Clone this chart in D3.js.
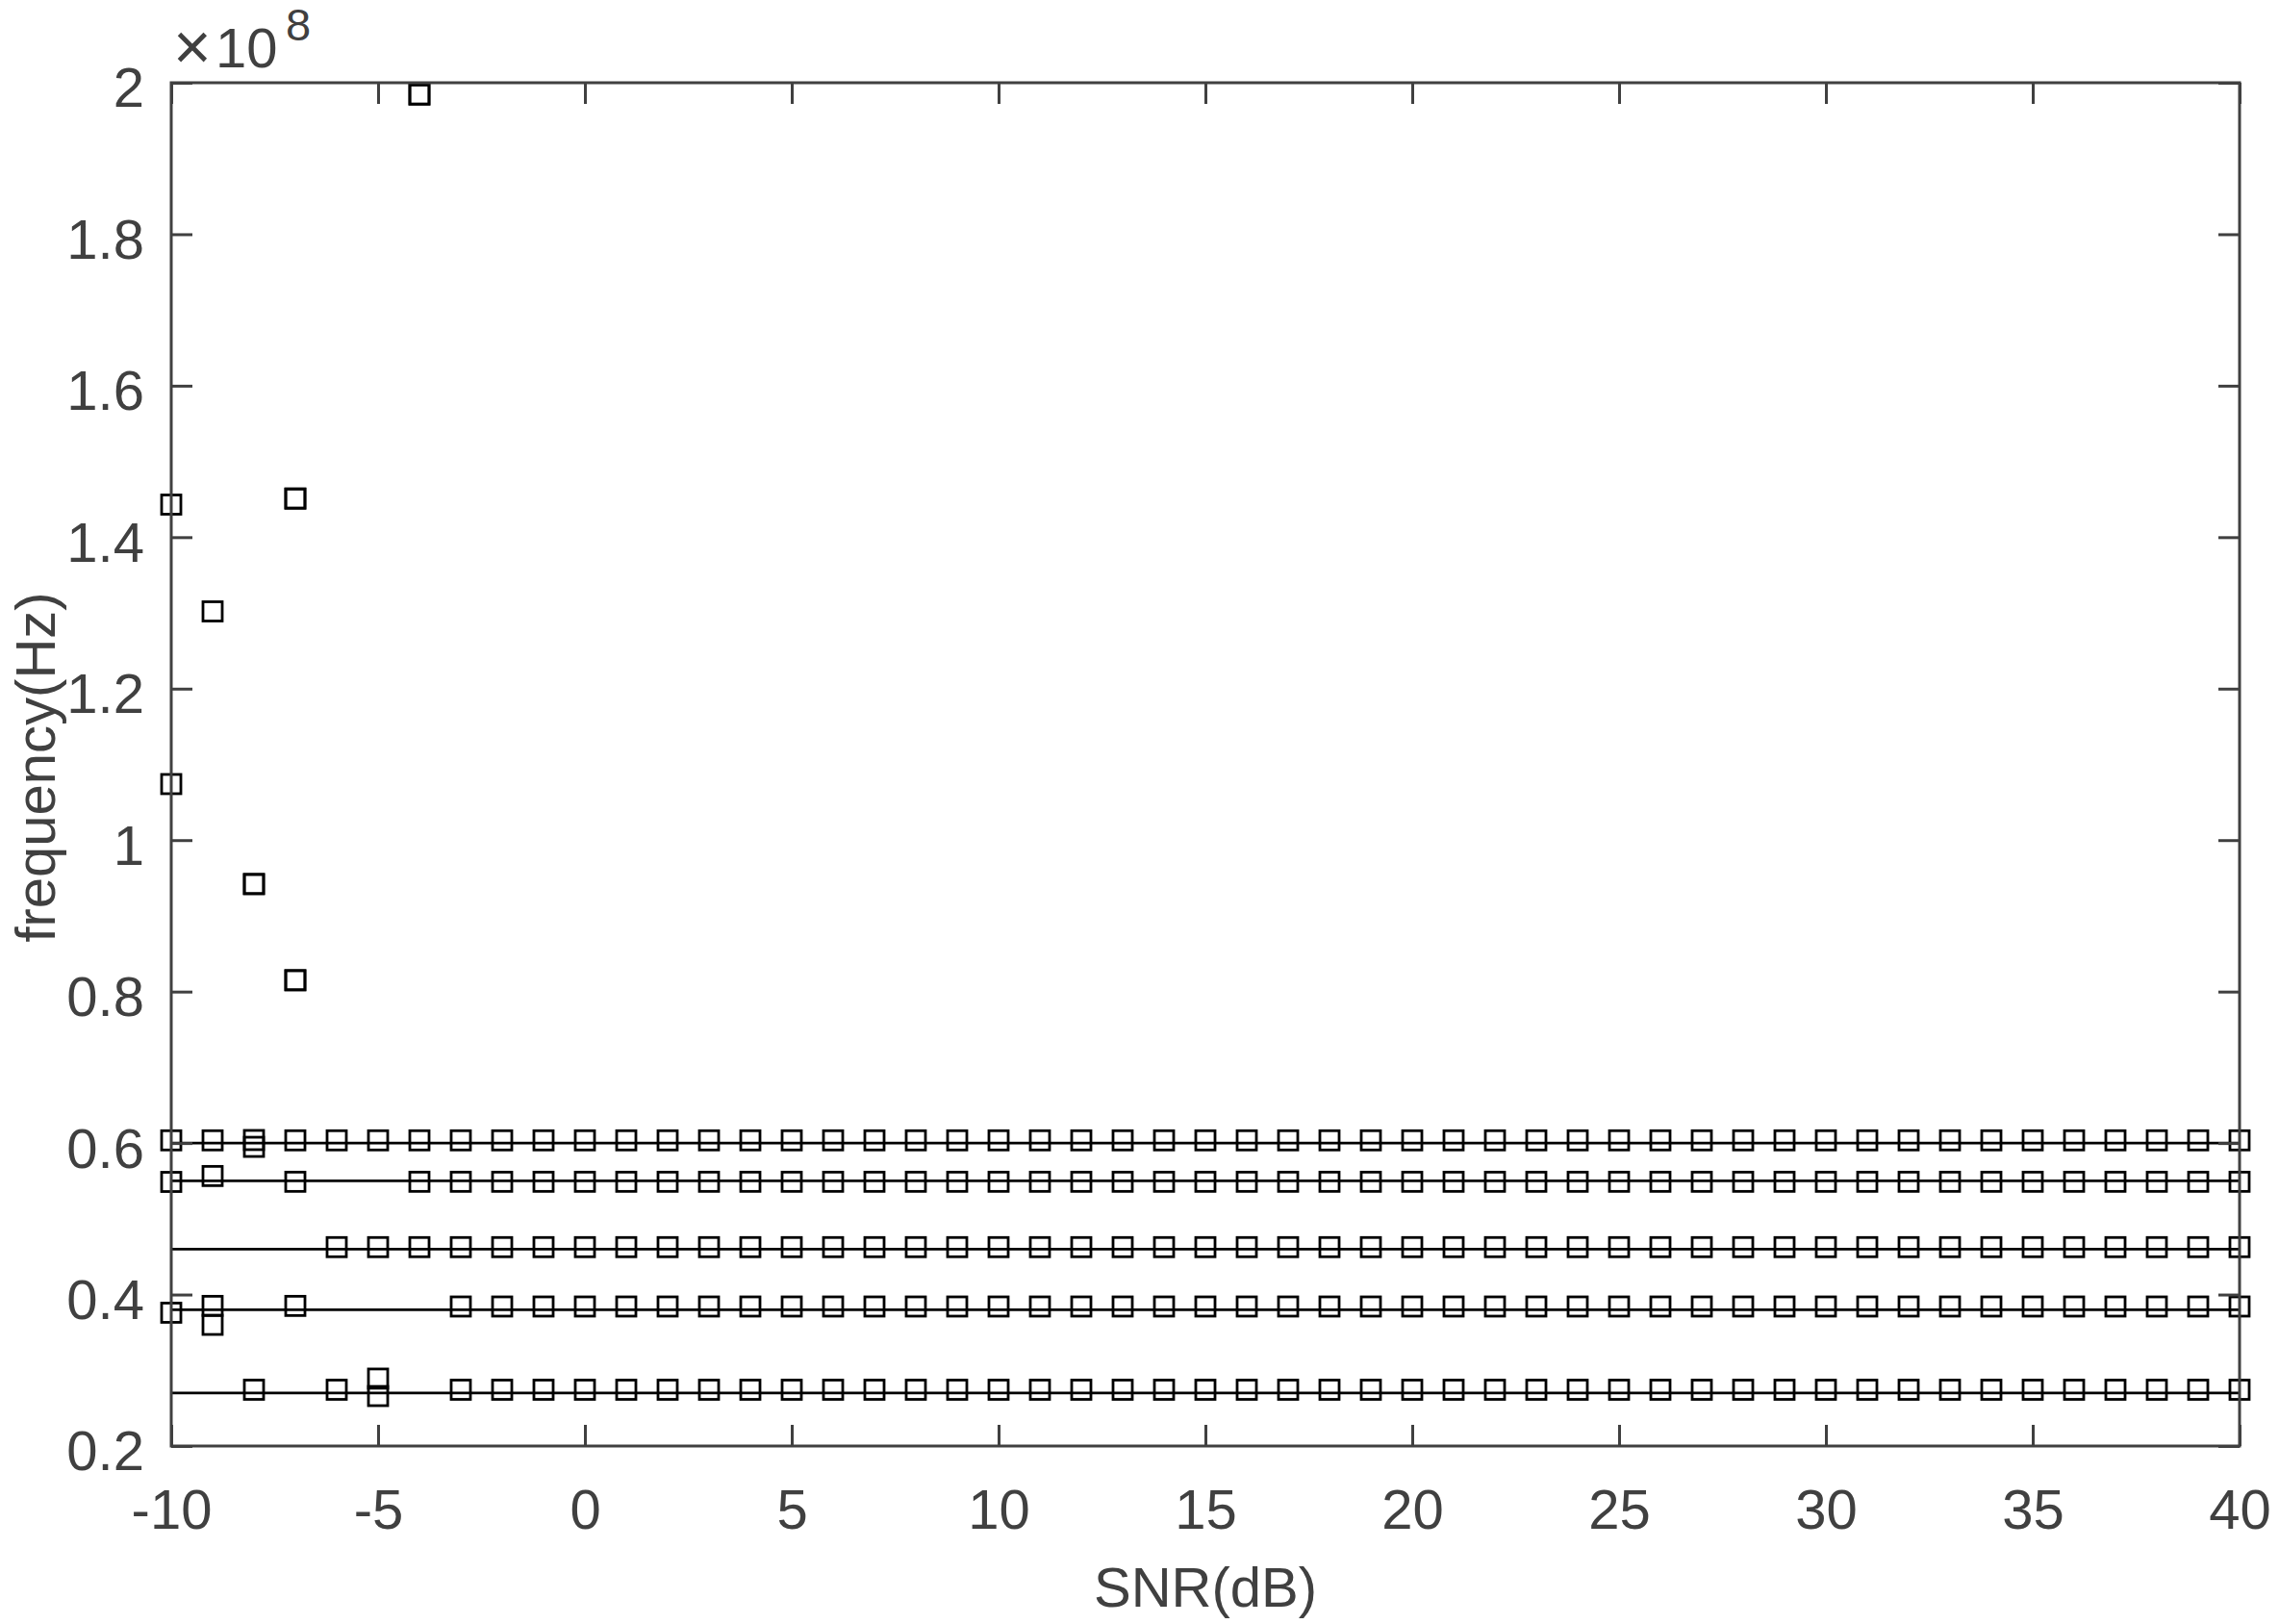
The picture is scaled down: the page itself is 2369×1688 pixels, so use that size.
<!DOCTYPE html>
<html>
<head>
<meta charset="utf-8">
<script src="https://cdn.jsdelivr.net/npm/d3@7"></script>
<style>
  body { margin: 0; background: #fff; }
  svg { display: block; font-family: "Liberation Sans", Arial, Helvetica, sans-serif; }
</style>
</head>
<body>
<svg id="chart" width="2369" height="1688"></svg>
<script>
// SNR values (dB), one column of estimates per value
var snr = [-10, -9, -8, -7, -6, -5, -4, -3, -2, -1, 0, 1, 2, 3, 4, 5, 6, 7, 8, 9, 10,
    11, 12, 13, 14, 15, 16, 17, 18, 19, 20, 21, 22, 23, 24, 25, 26, 27, 28, 29, 30,
    31, 32, 33, 34, 35, 36, 37, 38, 39, 40];

// true frequencies (x1e8 Hz), drawn as the solid lines
var trueFreq = [0.60, 0.55, 0.46, 0.38, 0.27];

// estimated frequencies (x1e8 Hz) at each SNR, read off the squares
var estimates = [
    [1.443, 1.074, 0.6036, 0.5487, 0.376],          // -10
    [1.302, 0.6036, 0.5565, 0.385, 0.360],          // -9
    [0.942, 0.942, 0.604, 0.595, 0.2743],           // -8
    [1.451, 1.451, 0.815, 0.815, 0.6036, 0.5489, 0.385], // -7
    [0.6036, 0.4626, 0.2743],                       // -6
    [0.6036, 0.4626, 0.289, 0.266],                 // -5
    [1.9845, 1.9845, 0.6036, 0.5489, 0.4626],       // -4
    [0.6036, 0.5489, 0.4626, 0.3842, 0.2743],       // -3
    [0.6036, 0.5489, 0.4626, 0.3842, 0.2743],       // -2
    [0.6036, 0.5489, 0.4626, 0.3842, 0.2743],       // -1
    [0.6036, 0.5489, 0.4626, 0.3842, 0.2743],       // 0
    [0.6036, 0.5489, 0.4626, 0.3842, 0.2743],       // 1
    [0.6036, 0.5489, 0.4626, 0.3842, 0.2743],       // 2
    [0.6036, 0.5489, 0.4626, 0.3842, 0.2743],       // 3
    [0.6036, 0.5489, 0.4626, 0.3842, 0.2743],       // 4
    [0.6036, 0.5489, 0.4626, 0.3842, 0.2743],       // 5
    [0.6036, 0.5489, 0.4626, 0.3842, 0.2743],       // 6
    [0.6036, 0.5489, 0.4626, 0.3842, 0.2743],       // 7
    [0.6036, 0.5489, 0.4626, 0.3842, 0.2743],       // 8
    [0.6036, 0.5489, 0.4626, 0.3842, 0.2743],       // 9
    [0.6036, 0.5489, 0.4626, 0.3842, 0.2743],       // 10
    [0.6036, 0.5489, 0.4626, 0.3842, 0.2743],       // 11
    [0.6036, 0.5489, 0.4626, 0.3842, 0.2743],       // 12
    [0.6036, 0.5489, 0.4626, 0.3842, 0.2743],       // 13
    [0.6036, 0.5489, 0.4626, 0.3842, 0.2743],       // 14
    [0.6036, 0.5489, 0.4626, 0.3842, 0.2743],       // 15
    [0.6036, 0.5489, 0.4626, 0.3842, 0.2743],       // 16
    [0.6036, 0.5489, 0.4626, 0.3842, 0.2743],       // 17
    [0.6036, 0.5489, 0.4626, 0.3842, 0.2743],       // 18
    [0.6036, 0.5489, 0.4626, 0.3842, 0.2743],       // 19
    [0.6036, 0.5489, 0.4626, 0.3842, 0.2743],       // 20
    [0.6036, 0.5489, 0.4626, 0.3842, 0.2743],       // 21
    [0.6036, 0.5489, 0.4626, 0.3842, 0.2743],       // 22
    [0.6036, 0.5489, 0.4626, 0.3842, 0.2743],       // 23
    [0.6036, 0.5489, 0.4626, 0.3842, 0.2743],       // 24
    [0.6036, 0.5489, 0.4626, 0.3842, 0.2743],       // 25
    [0.6036, 0.5489, 0.4626, 0.3842, 0.2743],       // 26
    [0.6036, 0.5489, 0.4626, 0.3842, 0.2743],       // 27
    [0.6036, 0.5489, 0.4626, 0.3842, 0.2743],       // 28
    [0.6036, 0.5489, 0.4626, 0.3842, 0.2743],       // 29
    [0.6036, 0.5489, 0.4626, 0.3842, 0.2743],       // 30
    [0.6036, 0.5489, 0.4626, 0.3842, 0.2743],       // 31
    [0.6036, 0.5489, 0.4626, 0.3842, 0.2743],       // 32
    [0.6036, 0.5489, 0.4626, 0.3842, 0.2743],       // 33
    [0.6036, 0.5489, 0.4626, 0.3842, 0.2743],       // 34
    [0.6036, 0.5489, 0.4626, 0.3842, 0.2743],       // 35
    [0.6036, 0.5489, 0.4626, 0.3842, 0.2743],       // 36
    [0.6036, 0.5489, 0.4626, 0.3842, 0.2743],       // 37
    [0.6036, 0.5489, 0.4626, 0.3842, 0.2743],       // 38
    [0.6036, 0.5489, 0.4626, 0.3842, 0.2743],       // 39
    [0.6036, 0.5489, 0.4626, 0.3842, 0.2743]        // 40
];

var xTicks = [-10, -5, 0, 5, 10, 15, 20, 25, 30, 35, 40];
var yTicks = [0.2, 0.4, 0.6, 0.8, 1, 1.2, 1.4, 1.6, 1.8, 2];
var yTickLabels = ['0.2', '0.4', '0.6', '0.8', '1', '1.2', '1.4', '1.6', '1.8', '2'];

var margin = { top: 86, right: 41, bottom: 185, left: 178 };
var axisColor = '#404040';
var fontSize = 58;

var svg = d3.select('#chart');
var W = +svg.attr('width'), H = +svg.attr('height');
var width = W - margin.left - margin.right;
var height = H - margin.top - margin.bottom;

var g = svg.append('g')
    .attr('transform', 'translate(' + margin.left + ',' + margin.top + ')');

var xScale = d3.scaleLinear().domain([-10, 40]).range([0, width]);
var yScale = d3.scaleLinear().domain([0.2, 2]).range([height, 0]);

// true frequency lines
var line = d3.line()
    .x(d => xScale(d.x))
    .y(d => yScale(d.y));

g.selectAll('.truth')
    .data(trueFreq)
    .enter()
    .append('path')
    .attr('class', 'truth')
    .attr('d', f => line([{ x: snr[0], y: f }, { x: snr[snr.length - 1], y: f }]))
    .attr('fill', 'none')
    .attr('stroke', '#000')
    .attr('stroke-width', 2.7);

// estimate squares
var points = [];
snr.forEach((s, i) => {
    estimates[i].forEach(v => points.push({ snr: s, f: v }));
});

var size = 20;
g.selectAll('.est')
    .data(points)
    .enter()
    .append('rect')
    .attr('class', 'est')
    .attr('x', d => xScale(d.snr) - size / 2)
    .attr('y', d => yScale(d.f) - size / 2)
    .attr('width', size)
    .attr('height', size)
    .attr('fill', 'none')
    .attr('stroke', '#000')
    .attr('stroke-width', 2.8);

// axes, ticks point inwards on all four sides
var tick = 22;

function styleAxis(sel) {
    sel.attr('color', axisColor)
        .attr('font-size', fontSize)
        .attr('font-family', null);
    sel.select('.domain').remove();
    sel.selectAll('.tick line').attr('stroke-width', 3);
    sel.selectAll('.tick text').attr('fill', axisColor);
}

g.append('g')
    .attr('transform', 'translate(0,' + height + ')')
    .call(d3.axisBottom(xScale).tickValues(xTicks).tickSize(-tick).tickSizeOuter(0)
        .tickPadding(45).tickFormat(d => String(d)))
    .call(styleAxis);

g.append('g')
    .call(d3.axisTop(xScale).tickValues(xTicks).tickSize(-tick).tickSizeOuter(0).tickFormat(''))
    .call(styleAxis);

var yAxis = g.append('g')
    .call(d3.axisLeft(yScale).tickValues(yTicks).tickSize(-tick).tickSizeOuter(0)
        .tickPadding(28).tickFormat((d, i) => yTickLabels[i]))
    .call(styleAxis);
yAxis.selectAll('.tick text').attr('dy', '0.43em');

g.append('g')
    .attr('transform', 'translate(' + width + ',0)')
    .call(d3.axisRight(yScale).tickValues(yTicks).tickSize(-tick).tickSizeOuter(0).tickFormat(''))
    .call(styleAxis);

// box
g.append('rect')
    .attr('x', 0)
    .attr('y', 0)
    .attr('width', width)
    .attr('height', height)
    .attr('fill', 'none')
    .attr('stroke', axisColor)
    .attr('stroke-width', 3);

// labels
svg.append('text')
    .attr('x', margin.left + width / 2)
    .attr('y', 1670)
    .attr('text-anchor', 'middle')
    .attr('font-size', fontSize)
    .attr('fill', axisColor)
    .text('SNR(dB)');

svg.append('text')
    .attr('transform', 'translate(57,' + (margin.top + height / 2 + 3) + ') rotate(-90)')
    .attr('text-anchor', 'middle')
    .attr('font-size', fontSize)
    .attr('fill', axisColor)
    .text('frequency(Hz)');

// exponent
var expo = svg.append('text')
    .attr('fill', axisColor);
expo.append('tspan').attr('x', 180).attr('y', 72).attr('font-size', 68).text('\u00d7');
expo.append('tspan').attr('x', 224).attr('y', 70).attr('font-size', fontSize).text('10');
expo.append('tspan').attr('x', 297).attr('y', 42).attr('font-size', 47).text('8');
</script>
</body>
</html>
